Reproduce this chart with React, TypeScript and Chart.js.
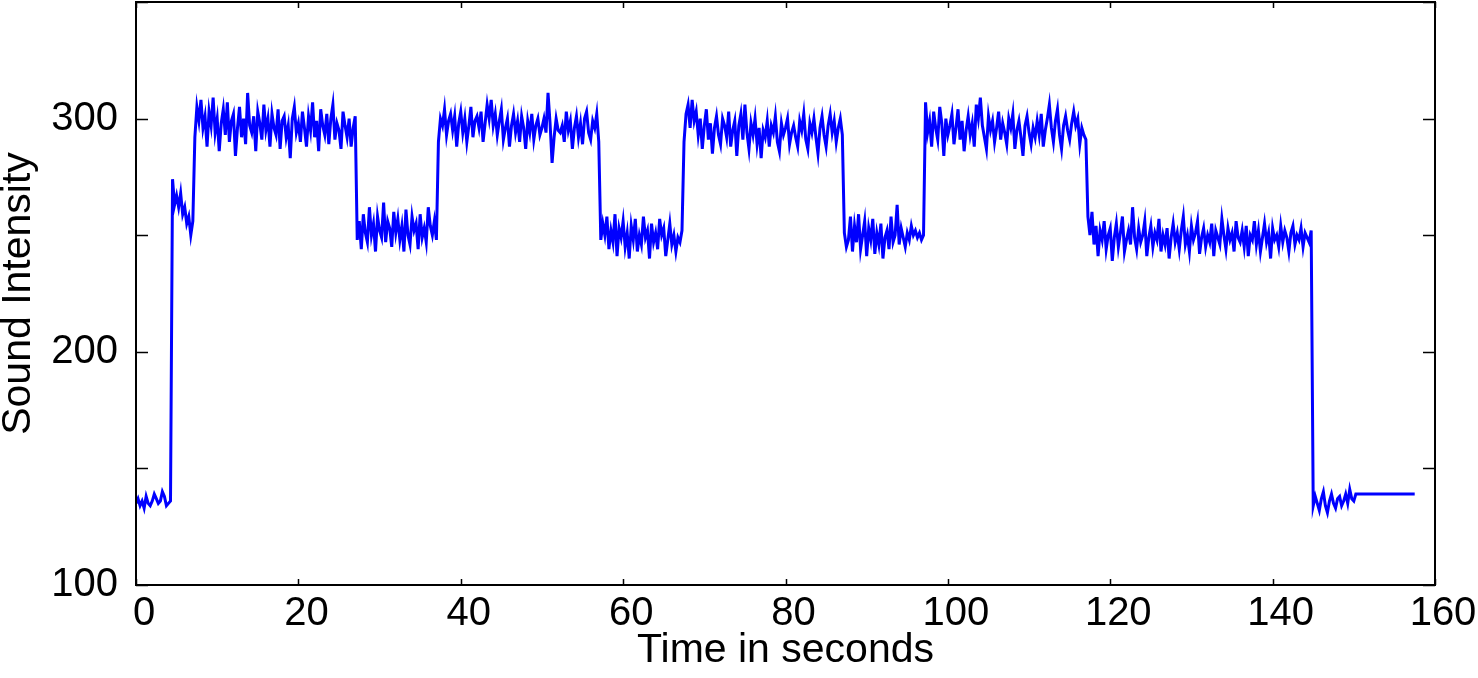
import React, { useEffect, useRef } from "react";
import { Chart, registerables } from "chart.js";

Chart.register(...registerables);

// Sampling interval of the recorded signal (seconds)
const DT = 0.25;

// Sound intensity samples, segment by segment (each sample DT apart, starting at t = 0)
const quietStart = [135, 137, 134, 136, 133, 138, 135, 134, 136, 139, 137, 135, 136, 140, 138, 134, 135, 136];
const riseStep = [274, 263, 267, 262, 268, 259, 262, 255, 258, 250, 256];
const high1 = [
  292, 305, 299, 308, 296, 301, 288, 303, 297, 309, 294, 300, 286, 298, 304, 293, 307, 290, 299, 302,
  284, 296, 305, 292, 300, 289, 311, 297, 294, 301, 286, 303, 298, 291, 306, 295, 300, 288, 302, 296,
  293, 304, 287, 299, 301, 292, 297, 283, 300, 305, 294, 298, 290, 303, 296, 288, 301, 295, 307, 292,
  299, 286, 304, 297, 293, 302, 289, 300, 306, 291, 298, 295, 287, 303, 297, 292, 300, 288, 296, 301,
];
const low1 = [
  248, 256, 244, 259, 251, 247, 262, 250, 255, 243, 258, 252, 249, 264, 247, 256, 253, 245, 260, 251,
  257, 248, 254, 243, 261, 250, 246, 258, 252, 255, 244, 259, 249, 253, 247, 262, 254, 250, 256, 248,
];
const high2 = [
  290, 300, 297, 304, 293, 299, 302, 295, 301, 288, 298, 303, 294, 300, 290, 297, 305, 292, 299, 301,
  296, 303, 290, 298, 306, 300, 308, 297, 302, 293, 299, 304, 291, 296, 300, 288, 297, 302, 294, 299,
  290, 301, 296, 287, 299, 294, 302, 291, 297, 300, 293, 296, 300, 294, 311, 298, 281, 292, 300, 295,
  294, 297, 290, 303, 295, 299, 287, 296, 301, 292, 298, 289, 300, 303, 294, 291, 299, 296, 302, 290,
];
const low2 = [
  248, 255, 250, 258, 244, 252, 247, 259, 241, 253, 249, 256, 245, 251, 240, 254, 248, 257, 243, 250,
  246, 258, 249, 252, 240, 255, 247, 251, 244, 257, 250, 253, 241, 248, 255, 246, 250, 243, 249, 247, 252,
];
const high3 = [
  290, 302, 306, 296, 308, 299, 303, 293, 300, 287, 297, 304, 291, 298, 285, 296, 301, 293, 289, 300,
  297, 292, 303, 288, 295, 299, 284, 297, 302, 291, 306, 294, 287, 298, 293, 300, 289, 296, 283, 295,
  292, 299, 288, 297, 294, 301, 290, 286, 298, 293, 296, 300, 289, 294, 297, 292, 288, 299, 295, 302,
  291, 287, 298, 294, 300, 292, 285, 296, 301, 293, 288, 297, 302, 294, 299, 290, 296, 300, 293,
];
const low3 = [
  251, 245, 248, 258, 243, 254, 247, 259, 244, 250, 256, 241, 253, 248, 257, 242, 251, 246, 255, 240,
  249, 252, 244, 258, 247, 250, 263, 246, 253, 249, 245, 251, 248, 254, 250, 252, 249, 251, 248, 250,
];
const high4 = [
  307, 294, 299, 288, 303, 296, 291, 305, 298, 284, 300, 293, 297, 302, 289, 296, 304, 291, 299, 286,
  295, 301, 293, 298, 288, 306, 300, 309, 297, 292, 287, 301, 295, 299, 290, 296, 303, 291, 298, 294,
  289, 300, 296, 302, 287, 295, 299, 292, 284, 297, 301, 294, 289, 296, 292, 299, 293, 302, 288, 295,
  300, 306, 296, 290, 299, 304, 293, 287, 297, 301, 295, 291, 298, 303, 297, 300, 289, 296, 293, 291,
];
const low4 = [
  258, 250, 260, 246, 254, 241, 252, 248, 256, 244, 250, 253, 239, 249, 255, 245, 251, 258, 243, 248,
  252, 246, 262, 249, 244, 253, 247, 250, 256, 241, 249, 254, 245, 251, 248, 257, 243, 250, 246, 253,
  240, 249, 255, 247, 251, 244, 252, 258, 246, 250, 243, 254, 248, 251, 256, 242, 249, 253, 245, 250,
  247, 255, 241, 252, 249, 246, 257, 250, 244, 253, 248, 251, 243, 256, 249, 247, 252, 245, 254, 241,
  250, 248, 256, 246, 252, 243, 249, 255, 247, 251, 240, 253, 248, 250, 245, 254, 247, 252, 249, 243,
  251, 254, 246, 250, 248, 253, 245, 251, 249, 247, 252,
];
const quietEnd = [134, 138, 135, 132, 137, 140, 134, 131, 136, 139, 135, 133, 137, 138, 134, 136, 139, 135, 141, 137, 136, 139];

// Constant hold after recording stops
const tailTimes = [150.5, 157.5];
const tailValues = [139, 139];

// Axis ticks
const xTicks = [0, 20, 40, 60, 80, 100, 120, 140, 160];
const yTicks = [100, 150, 200, 250, 300, 350];
const yLabelled = [100, 200, 300];

const intensity = [
  ...quietStart, ...riseStep, ...high1, ...low1, ...high2, ...low2,
  ...high3, ...low3, ...high4, ...low4, ...quietEnd,
];

const FONT = "'Liberation Sans', Arial, Helvetica, sans-serif";

const boxAndTicks = {
  id: "boxAndTicks",
  afterDatasetsDraw(chart: any) {
    const { ctx, chartArea, scales } = chart;
    const { left, right, top, bottom } = chartArea;
    ctx.save();
    ctx.strokeStyle = "#000";
    ctx.lineWidth = 1.5;
    ctx.beginPath();
    for (const v of yTicks) {
      const y = Math.round(scales.y.getPixelForValue(v)) + 0.5;
      ctx.moveTo(left, y);
      ctx.lineTo(left + 12, y);
      ctx.moveTo(right, y);
      ctx.lineTo(right - 12, y);
    }
    for (const v of xTicks) {
      const x = Math.round(scales.x.getPixelForValue(v)) + 0.5;
      ctx.moveTo(x, bottom);
      ctx.lineTo(x, bottom - 6);
      ctx.moveTo(x, top);
      ctx.lineTo(x, top + 6);
    }
    ctx.stroke();
    ctx.lineWidth = 2;
    ctx.strokeRect(left, top, right - left, bottom - top);
    ctx.restore();
  },
};

export default function App() {
  const ref = useRef<HTMLCanvasElement | null>(null);

  useEffect(() => {
    document.body.style.margin = "0";
    const canvas = ref.current;
    if (!canvas) return;
    const points = intensity.map((v, i) => ({ x: i * DT, y: v }));
    tailTimes.forEach((t, i) => points.push({ x: t, y: tailValues[i] }));

    const chart = new Chart(canvas, {
      type: "line",
      data: {
        datasets: [
          {
            data: points,
            borderColor: "#0000ff",
            borderWidth: 3,
            pointRadius: 0,
            tension: 0,
            fill: false,
          },
        ],
      },
      options: {
        animation: false,
        responsive: false,
        maintainAspectRatio: false,
        layout: { padding: { top: 2, right: 43, left: 0, bottom: 0 } },
        plugins: { legend: { display: false }, tooltip: { enabled: false } },
        scales: {
          x: {
            type: "linear",
            min: 0,
            max: 160,
            afterFit: (s: any) => {
              s.height = 93;
              s.paddingLeft = 0;
              s.paddingRight = 0;
            },
            afterBuildTicks: (s: any) => {
              s.ticks = xTicks.map((v) => ({ value: v }));
            },
            grid: { display: false, drawTicks: false },
            border: { display: false },
            ticks: {
              color: "#000",
              padding: 5,
              labelOffset: 8,
              maxRotation: 0,
              font: { family: FONT, size: 40 },
              callback: (v: any) => String(v),
            },
            title: {
              display: true,
              text: "Time in seconds",
              color: "#000",
              font: { family: FONT, size: 41, lineHeight: 1 },
              padding: { top: 0, bottom: 6.5 },
            },
          },
          y: {
            type: "linear",
            min: 100,
            max: 350,
            afterFit: (s: any) => {
              s.width = 136;
              s.paddingTop = 0;
              s.paddingBottom = 0;
            },
            afterBuildTicks: (s: any) => {
              s.ticks = yTicks.map((v) => ({ value: v }));
            },
            grid: { display: false, drawTicks: false },
            border: { display: false },
            ticks: {
              color: "#000",
              padding: 18,
              font: { family: FONT, size: 40 },
              callback: (v: any) => (yLabelled.includes(Number(v)) ? String(v) : ""),
            },
            title: {
              display: true,
              text: "Sound Intensity",
              color: "#000",
              font: { family: FONT, size: 41, lineHeight: 1 },
              padding: { top: -1.5, bottom: 0 },
            },
          },
        },
      },
      plugins: [boxAndTicks],
    });
    return () => chart.destroy();
  }, []);

  return (
    <div style={{ width: 1478, height: 678 }}>
      <canvas ref={ref} width={1478} height={678} style={{ display: "block" }} />
    </div>
  );
}
